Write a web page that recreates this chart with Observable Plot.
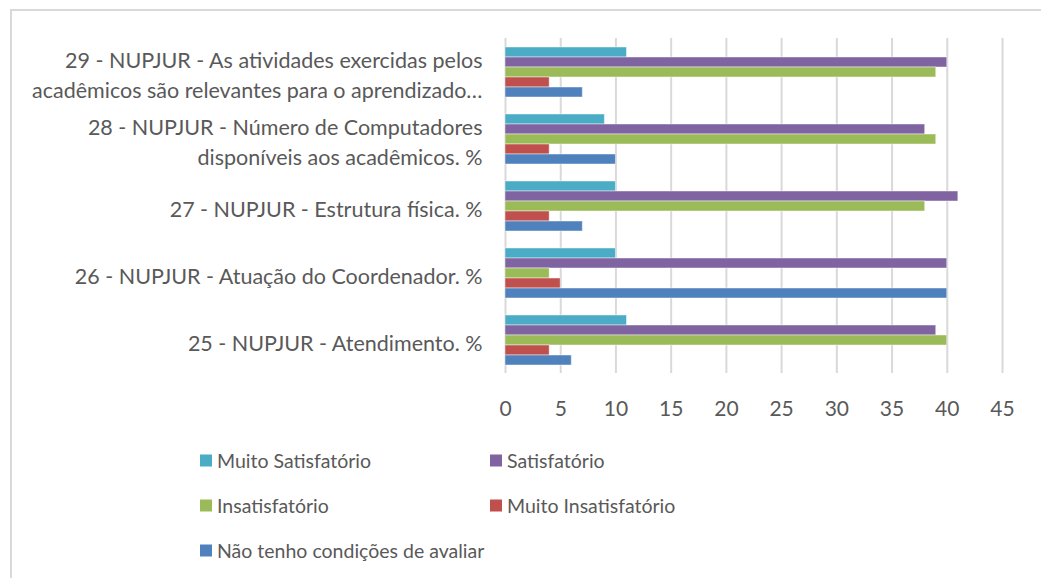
<!DOCTYPE html>
<html><head><meta charset="utf-8">
<script src="https://cdn.jsdelivr.net/npm/d3@7"></script>
<script src="https://cdn.jsdelivr.net/npm/@observablehq/plot@0.6"></script>
<style>
body{margin:0;background:#fff;font-family:Lato,"Open Sans",sans-serif;}
#frame{position:absolute;left:10px;top:9px;width:1100px;height:700px;border-left:2px solid #d9d9d9;border-top:2px solid #d9d9d9;}
#chart{position:absolute;left:0;top:0;}
#legend{position:absolute;left:0;top:0;width:1041px;height:578px;pointer-events:none;}
.li{position:absolute;display:flex;align-items:center;font-size:19.5px;color:#595959;white-space:nowrap;transform:translateY(-50%);}
.sw{width:12px;height:12px;margin-right:5px;}
</style></head>
<body>
<div id="frame"></div>
<div id="chart"></div>
<div id="legend"></div>
<script>
const categories = ["29", "28", "27", "26", "25"];
const categoryLabels = [
  "29 - NUPJUR - As atividades exercidas pelos\nacadêmicos são relevantes para o aprendizado…",
  "28 - NUPJUR - Número de Computadores\ndisponíveis aos acadêmicos. %",
  "27 - NUPJUR - Estrutura física. %",
  "26 - NUPJUR - Atuação do Coordenador. %",
  "25 - NUPJUR - Atendimento. %"
];
const seriesNames = ["Muito Satisfatório", "Satisfatório", "Insatisfatório", "Muito Insatisfatório", "Não tenho condições de avaliar"];
const seriesColors = ["#4BACC6", "#8064A2", "#9BBB59", "#C0504D", "#4F81BD"];
// values per category (29, 28, 27, 26, 25)
const muitoSatisfatorio = [11, 9, 10, 10, 11];
const satisfatorio = [40, 38, 41, 40, 39];
const insatisfatorio = [39, 39, 38, 4, 40];
const muitoInsatisfatorio = [4, 4, 4, 5, 4];
const naoTenhoCondicoes = [7, 10, 7, 40, 6];
const xTicks = [0, 5, 10, 15, 20, 25, 30, 35, 40, 45];

const seriesValues = [muitoSatisfatorio, satisfatorio, insatisfatorio, muitoInsatisfatorio, naoTenhoCondicoes];
const data = [];
categories.forEach((c, i) => seriesNames.forEach((s, j) => data.push({category: c, series: s, value: seriesValues[j][i]})));
const labelOf = Object.fromEntries(categories.map((c, i) => [c, categoryLabels[i]]));

const plot = Plot.plot({
  width: 1041,
  height: 430,
  marginTop: 38,
  marginBottom: 57,
  marginLeft: 505,
  marginRight: 39,
  style: {fontFamily: "Lato, 'Open Sans', sans-serif", color: "#595959", background: "transparent"},
  x: {domain: [0, 45], axis: null, label: null},
  y: {domain: seriesNames, paddingInner: 0, paddingOuter: 0.85, axis: null, label: null},
  fy: {domain: categories, padding: 0, axis: null, label: null},
  color: {domain: seriesNames, range: seriesColors},
  marks: [
    Plot.ruleX(xTicks, {stroke: "#d9d9d9", strokeWidth: 2, strokeOpacity: 1}),
    Plot.barX(data, {x: "value", y: "series", fy: "category", fill: "series", stroke: "#ffffff", strokeOpacity: 0.45, strokeWidth: 1, inset: 0}),
    Plot.axisX({ticks: xTicks, tickSize: 0, tickPadding: 28, fontSize: 21, anchor: "bottom", facetAnchor: "bottom", label: null, fill: "#595959"}),
    Plot.axisFy({anchor: "left", tickSize: 0, tickPadding: 23, fontSize: 21.5, lineHeight: 1.4, label: null, tickFormat: d => labelOf[d], fill: "#595959", dy: 1})
  ]
});
document.getElementById("chart").appendChild(plot);

const legendPos = [[200, 460], [490, 460], [200, 505], [490, 505], [200, 550]];
const lg = document.getElementById("legend");
seriesNames.forEach((s, i) => {
  const d = document.createElement("div");
  d.className = "li";
  d.style.left = legendPos[i][0] + "px";
  d.style.top = legendPos[i][1] + "px";
  d.innerHTML = `<span class="sw" style="background:${seriesColors[i]}"></span><span>${s}</span>`;
  lg.appendChild(d);
});
</script>
</body></html>
